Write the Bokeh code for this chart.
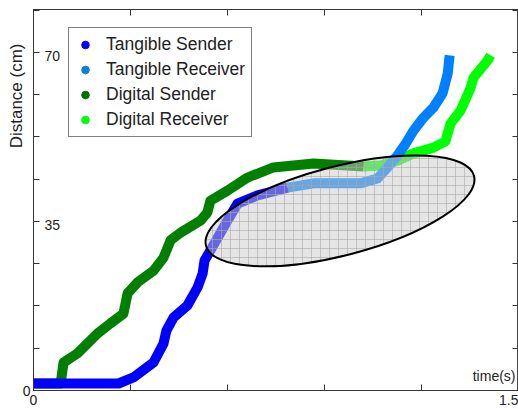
import math
from bokeh.plotting import figure
from bokeh.models import LinearAxis, FixedTicker, Label, Legend, LegendItem, Range1d, Title
from bokeh.embed import file_html
from bokeh.resources import INLINE

# ---- data (time in s, distance in cm) ----
tang_send_t = [0, 0.263, 0.309, 0.371, 0.402, 0.411, 0.433, 0.476, 0.507, 0.523, 0.529, 0.547, 0.600, 0.631, 0.693, 0.786]
tang_send_d = [1.45, 1.45, 2.7, 5.8, 9.7, 12.4, 15.1, 17.6, 21.3, 24.2, 26.9, 29.0, 35.2, 38.7, 40.4, 42.0]

tang_recv_t = [0.786, 0.866, 1.011, 1.064, 1.095, 1.126, 1.150, 1.175, 1.206, 1.237, 1.265, 1.281, 1.287]
tang_recv_d = [42.0, 42.9, 42.9, 43.9, 46.2, 48.7, 51.0, 53.8, 56.5, 58.6, 61.5, 65.6, 69.4]

dig_send_t = [0, 0.084, 0.093, 0.136, 0.198, 0.238, 0.278, 0.291, 0.322, 0.371, 0.402, 0.424, 0.455, 0.517, 0.538, 0.547, 0.600, 0.662, 0.742, 0.866, 1.021]
dig_send_d = [1.45, 1.45, 5.8, 7.7, 11.8, 13.9, 15.9, 20.1, 22.4, 24.8, 27.5, 31.1, 32.7, 35.2, 36.9, 39.3, 41.4, 44.1, 46.2, 47.0, 46.4]

dig_recv_t = [1.021, 1.073, 1.126, 1.175, 1.237, 1.274, 1.290, 1.321, 1.352, 1.361, 1.404, 1.414]
dig_recv_d = [46.4, 46.6, 47.6, 49.1, 50.3, 51.6, 55.3, 58.0, 62.7, 64.8, 68.3, 69.4]

series_names = ["Tangible Sender", "Tangible Receiver", "Digital Sender", "Digital Receiver"]
series_colors = ["#0000FF", "#0080FF", "#007F00", "#00FF00"]
legend_colors = ["#0000FF", "#0A80D8", "#007400", "#00FF00"]

x_ticks = [0, 0.3, 0.6, 0.9, 1.2, 1.5]
x_tick_labels = {0: "0", 1.5: "1.5"}
y_ticks = [0, 8.75, 17.5, 26.25, 35, 43.75, 52.5, 61.25, 70, 78.75]
y_inner_labels = {35: "35", 70: "70"}

# highlighted region (centre in data units)
ell_x, ell_y = 0.948, 37.2

FONT = "Liberation Sans"

p = figure(width=518, height=409, x_range=Range1d(0, 1.5), y_range=Range1d(0, 78.9),
           output_backend="svg", toolbar_location=None,
           x_axis_location=None, y_axis_location=None,
           min_border_left=33, min_border_right=0, min_border_top=9, min_border_bottom=19)
p.outline_line_color = "#444444"
p.background_fill_color = "white"
for g in p.grid:
    g.visible = False

def mk_axis(ticks, labels=None, standoff=4):
    labels = labels or {}
    overrides = {t: labels.get(t, "") for t in ticks}
    ax = LinearAxis(ticker=FixedTicker(ticks=ticks), major_tick_in=6, major_tick_out=0,
                    minor_tick_in=0, minor_tick_out=0,
                    major_label_overrides=overrides,
                    axis_line_color="#333333", major_tick_line_color="#333333")
    if labels:
        ax.major_label_text_font = FONT
        ax.major_label_text_font_size = "14px"
        ax.major_label_text_color = "#222222"
        ax.major_label_standoff = standoff
    else:
        ax.major_label_text_font_size = "1px"
        ax.major_label_standoff = 0
    return ax

p.add_layout(mk_axis(y_ticks, {0: "0"}, standoff=3), "left")
p.add_layout(mk_axis(y_ticks), "right")
p.add_layout(mk_axis(x_ticks, x_tick_labels, standoff=4), "below")
p.add_layout(mk_axis(x_ticks), "above")

# y axis title (side panel), anchored at its top end
p.add_layout(Title(text="Distance (cm)", align="right", offset=34, standoff=-12,
                   text_font=FONT, text_font_size="17px", text_font_style="normal",
                   text_color="#222222"), "left")

lw = 10
p.line(dig_recv_t, dig_recv_d, line_color=series_colors[3], line_width=lw, line_join="round")
p.line(dig_send_t, dig_send_d, line_color=series_colors[2], line_width=lw, line_join="round")
p.line(tang_recv_t, tang_recv_d, line_color=series_colors[1], line_width=lw, line_join="round")
p.line(tang_send_t, tang_send_d, line_color=series_colors[0], line_width=lw, line_join="round")

p.ellipse(x=[ell_x], y=[ell_y], width=277, height=89, width_units="screen", height_units="screen",
          angle=0.255, fill_color="#cccccc", fill_alpha=0.5, hatch_pattern="+", hatch_color="#aaaaaa",
          hatch_alpha=0.6, hatch_scale=9, hatch_weight=1, line_color="black", line_width=2)

# legend (marker-only entries, hidden marker renderers)
items = []
all_t = [tang_send_t, tang_recv_t, dig_send_t, dig_recv_t]
all_d = [tang_send_d, tang_recv_d, dig_send_d, dig_recv_d]
for name, col, tt, dd in zip(series_names, legend_colors, all_t, all_d):
    r = p.scatter(x=tt, y=dd, marker="circle", size=14, fill_color=col, line_color=col)
    r.visible = False
    items.append(LegendItem(label=name, renderers=[r]))
legend = Legend(items=items, location=(35, 253), padding=6, spacing=4, label_height=19,
                glyph_height=19, glyph_width=20, label_standoff=11,
                label_text_font=FONT, label_text_font_size="17.5px", label_text_color="#222222",
                border_line_color="black", border_line_width=1, background_fill_alpha=1,
                inactive_fill_alpha=0, margin=0)
p.add_layout(legend)

# labels inside the frame
lab = dict(text_font=FONT, text_font_size="14px", text_color="#222222", text_baseline="middle")
for yv, txt in y_inner_labels.items():
    p.add_layout(Label(x=0, y=yv, text=txt, x_offset=11, y_offset=-4, text_align="left", **lab))
p.add_layout(Label(x=1.5, y=0, text="time(s)", x_offset=-3, y_offset=15, text_align="right", **lab))

open("out.html", "w").write(file_html(p, INLINE))
